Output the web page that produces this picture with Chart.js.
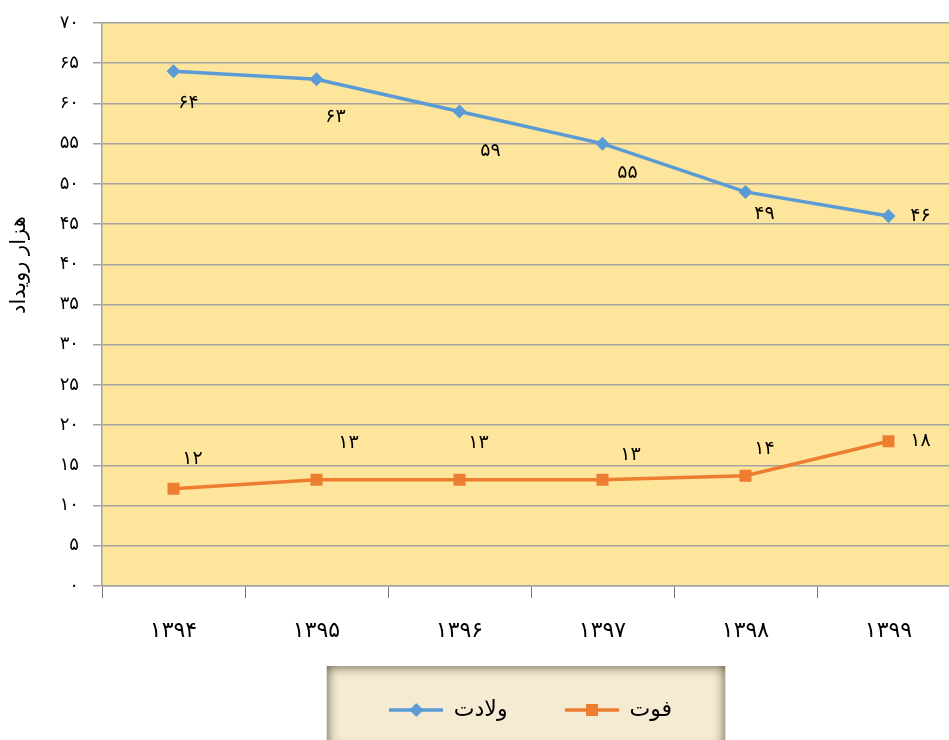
<!DOCTYPE html>
<html>
<head>
<meta charset="utf-8">
<script src="https://cdn.jsdelivr.net/npm/chart.js@4.4.1/dist/chart.umd.min.js"></script>
<style>
  html, body { margin: 0; padding: 0; overflow: hidden; background: #fff; }
</style>
</head>
<body>
<canvas id="myChart" width="975" height="740"></canvas>
<script>
// data
const years = ['۱۳۹۴', '۱۳۹۵', '۱۳۹۶', '۱۳۹۷', '۱۳۹۸', '۱۳۹۹'];
const births = [64, 63, 59, 55, 49, 46];
const deaths = [12.1, 13.2, 13.2, 13.2, 13.7, 18];
const birthName = 'ولادت';
const deathName = 'فوت';
const yTitle = 'هزار رویداد';

// where each value label sits relative to its point (dx, dy)
const birthLabelPos = [[15, 32], [19, 38], [31, 40], [25, 29], [19, 22], [32, 0]];
const deathLabelPos = [[19, -30], [32, -37], [19, -37], [28, -25], [19, -27], [32, 0]];

const BLUE = '#5B9BD5';
const ORANGE = '#ED7D31';
const GRID = '#A3A3A3';
const FONT = '"DejaVu Sans", sans-serif';

const faDigits = '۰۱۲۳۴۵۶۷۸۹';
function toFa(n) {
    return String(n).replace(/\d/g, d => faDigits[d]);
}

function legendSymbol(color, shape) {
    const c = document.createElement('canvas');
    c.width = 54;
    c.height = 16;
    const g = c.getContext('2d');
    g.strokeStyle = color;
    g.lineWidth = 3.5;
    g.beginPath();
    g.moveTo(0, 8);
    g.lineTo(54, 8);
    g.stroke();
    g.fillStyle = color;
    if (shape === 'diamond') {
        g.beginPath();
        g.moveTo(27, 1); g.lineTo(34, 8); g.lineTo(27, 15); g.lineTo(20, 8);
        g.closePath();
        g.fill();
    } else {
        g.fillRect(21, 2, 12, 12);
    }
    return c;
}
const symbols = [legendSymbol(BLUE, 'diamond'), legendSymbol(ORANGE, 'square')];

const extras = {
    id: 'extras',
    beforeDraw(chart) {
        const { ctx, chartArea: a } = chart;
        ctx.save();
        ctx.fillStyle = '#FDE59B';
        ctx.fillRect(a.left, a.top, a.right - a.left, a.bottom - a.top);

        // legend backdrop
        const boxes = chart.legend.legendHitBoxes;
        if (boxes && boxes.length) {
            const first = boxes[0], last = boxes[boxes.length - 1];
            const x0 = first.left - 63;
            const x1 = last.left + last.width + 53;
            const cy = first.top + first.height / 2;
            const y0 = cy - 44;
            const y1 = chart.height + 10;
            ctx.save();
            ctx.beginPath();
            ctx.rect(x0, y0, x1 - x0, y1 - y0);
            ctx.clip();
            ctx.fillStyle = '#F5EBD2';
            ctx.fillRect(x0, y0, x1 - x0, y1 - y0);
            ctx.shadowColor = 'rgba(70, 60, 40, 0.95)';
            ctx.shadowBlur = 12;
            ctx.lineWidth = 10;
            ctx.strokeStyle = '#6f6552';
            ctx.strokeRect(x0 - 5, y0 - 5, x1 - x0 + 10, y1 - y0 + 10);
            ctx.restore();
        }

        // y axis title, sitting a bit above the middle as in the original
        ctx.translate(20, a.top + (a.bottom - a.top) * 0.43);
        ctx.rotate(-Math.PI / 2);
        ctx.font = '21px ' + FONT;
        ctx.fillStyle = '#000';
        ctx.textAlign = 'center';
        ctx.textBaseline = 'middle';
        ctx.fillText(yTitle, 0, 0);
        ctx.restore();
    },
    afterDatasetsDraw(chart) {
        const { ctx } = chart;
        const offsets = [birthLabelPos, deathLabelPos];
        ctx.save();
        ctx.font = '19px ' + FONT;
        ctx.fillStyle = '#000';
        ctx.textAlign = 'center';
        ctx.textBaseline = 'middle';
        chart.data.datasets.forEach((ds, i) => {
            chart.getDatasetMeta(i).data.forEach((pt, j) => {
                const [dx, dy] = offsets[i][j];
                ctx.fillText(toFa(Math.round(ds.data[j])), pt.x + dx, pt.y + dy);
            });
        });
        ctx.restore();
    }
};

const ctx = document.getElementById('myChart').getContext('2d');
const myChart = new Chart(ctx, {
    type: 'line',
    data: {
        labels: years,
        datasets: [{
            label: birthName,
            data: births,
            borderColor: BLUE,
            backgroundColor: BLUE,
            borderWidth: 3.5,
            pointStyle: 'rectRot',
            pointRadius: 7,
            pointBorderWidth: 0,
            tension: 0
        }, {
            label: deathName,
            data: deaths,
            borderColor: ORANGE,
            backgroundColor: ORANGE,
            borderWidth: 3.5,
            pointStyle: 'rect',
            pointRadius: 8.5,
            pointBorderWidth: 0,
            tension: 0
        }]
    },
    options: {
        responsive: false,
        animation: false,
        layout: {
            padding: { top: 22, right: 15, bottom: 9, left: 0 }
        },
        scales: {
            x: {
                offset: true,
                grid: {
                    offset: true,
                    drawOnChartArea: false,
                    drawTicks: true,
                    tickLength: 12,
                    color: '#777'
                },
                border: { color: GRID, width: 1.5 },
                ticks: {
                    color: '#000',
                    padding: 20,
                    font: { family: FONT, size: 22 }
                },
                afterFit: s => { s.height = 55; }
            },
            y: {
                min: 0,
                max: 70,
                ticks: {
                    stepSize: 5,
                    color: '#000',
                    padding: 14,
                    font: { family: FONT, size: 18, lineHeight: 1 },
                    callback: v => toFa(v)
                },
                grid: {
                    color: GRID,
                    lineWidth: 1.5,
                    tickLength: 9
                },
                border: { color: GRID, width: 1.5 },
                afterFit: s => { s.width = 102; }
            }
        },
        plugins: {
            legend: {
                position: 'bottom',
                fullSize: false,
                labels: {
                    usePointStyle: true,
                    pointStyleWidth: 53,
                    padding: 58,
                    color: '#000',
                    font: { family: FONT, size: 22 },
                    generateLabels: chart => {
                        const items = Chart.defaults.plugins.legend.labels.generateLabels(chart);
                        items.forEach((it, i) => { it.pointStyle = symbols[i]; });
                        return items;
                    }
                }
            },
            tooltip: { enabled: false }
        }
    },
    plugins: [extras]
});
</script>
</body>
</html>
